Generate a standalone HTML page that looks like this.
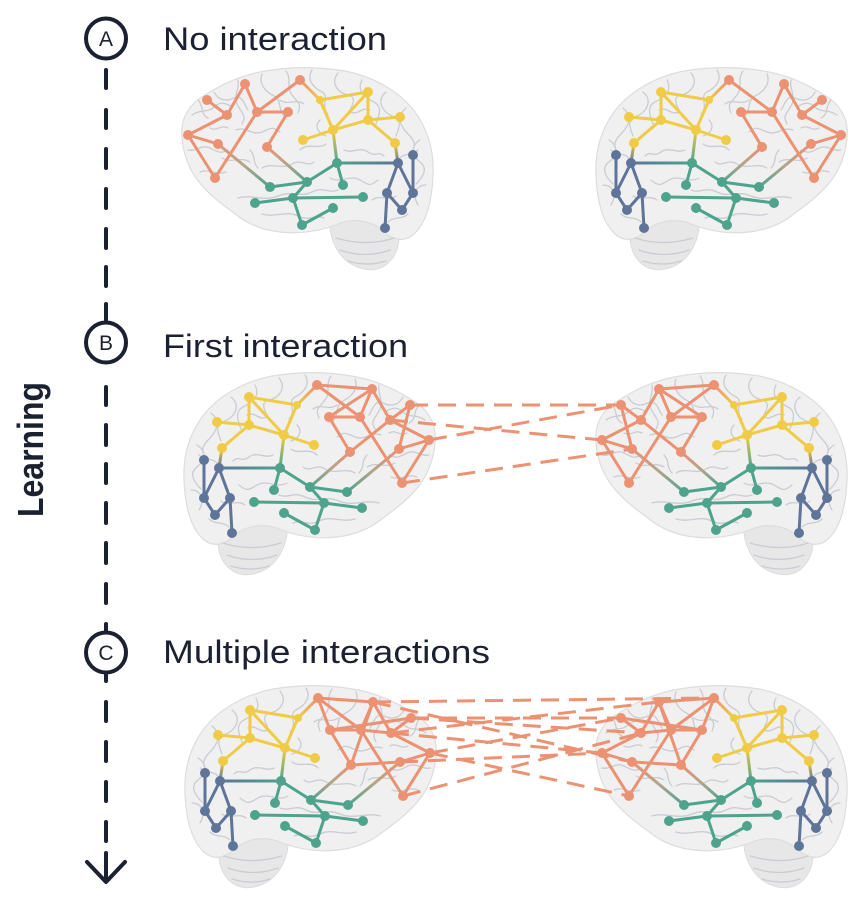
<!DOCTYPE html>
<html>
<head>
<meta charset="utf-8">
<style>
html,body{margin:0;padding:0;background:#ffffff;}
svg{display:block;}
</style>
</head>
<body>
<svg width="866" height="898" viewBox="0 0 866 898" xmlns="http://www.w3.org/2000/svg" xmlns:xlink="http://www.w3.org/1999/xlink">
<defs>
  <linearGradient id="gOT1" gradientUnits="userSpaceOnUse" x1="218" y1="144" x2="270" y2="187"><stop offset="0" stop-color="#EC9172"/><stop offset="0.5" stop-color="#b5a48a"/><stop offset="1" stop-color="#4DA38C"/></linearGradient>
  <linearGradient id="gOT2" gradientUnits="userSpaceOnUse" x1="267" y1="147" x2="307" y2="182"><stop offset="0" stop-color="#EC9172"/><stop offset="0.5" stop-color="#b5a48a"/><stop offset="1" stop-color="#4DA38C"/></linearGradient>
  <linearGradient id="gOY" gradientUnits="userSpaceOnUse" x1="300" y1="80" x2="320" y2="100"><stop offset="0" stop-color="#EC9172"/><stop offset="1" stop-color="#F0CB45"/></linearGradient>
  <linearGradient id="gYT" gradientUnits="userSpaceOnUse" x1="333" y1="130" x2="337" y2="163"><stop offset="0" stop-color="#F0CB45"/><stop offset="1" stop-color="#4DA38C"/></linearGradient>
  <linearGradient id="gYB" gradientUnits="userSpaceOnUse" x1="395" y1="143" x2="398" y2="163"><stop offset="0" stop-color="#F0CB45"/><stop offset="1" stop-color="#5F7499"/></linearGradient>
  <linearGradient id="gTB" gradientUnits="userSpaceOnUse" x1="337" y1="163" x2="398" y2="163"><stop offset="0" stop-color="#4DA38C"/><stop offset="1" stop-color="#5F7499"/></linearGradient>

  <g id="brain">
    <path d="M330,212 C327,240 340,264 364,269 C384,273 398,258 399,238 C399,226 392,216 380,212 Z" fill="#e7e7e7" stroke="#dcdcdc" stroke-width="1"/>
    <path d="M182,137 C180,118 190,103 205,95 C222,84 240,76 260,72 C285,67 315,66 345,71 C375,77 400,92 415,112 C428,130 434,152 433,175 C432,200 427,222 414,234 C404,243 392,240 382,230 C370,220 352,218 338,224 C318,232 298,234 280,232 C262,230 246,223 234,213 C220,203 206,192 196,178 C187,165 183,152 182,137 Z" fill="#f0f0f0" stroke="#dddddd" stroke-width="1.2"/>
    <g fill="none" stroke="#c9cdd2" stroke-width="1.3" stroke-linecap="round">
      <path d="M192,115 c8,-6 16,-2 22,-8 s12,-4 18,0"/>
      <path d="M188,150 c8,2 14,-6 22,-2 s10,6 18,2"/>
      <path d="M200,172 c10,-4 16,4 26,0"/>
      <path d="M214,92 c4,8 12,10 20,6 s10,6 14,12"/>
      <path d="M238,80 c2,10 -6,16 0,26 s8,10 4,18"/>
      <path d="M262,74 c-4,10 4,18 12,22 s4,14 10,20"/>
      <path d="M286,71 c6,8 0,16 6,24 s10,8 6,18"/>
      <path d="M312,70 c-6,10 2,18 10,22 s-2,14 6,22"/>
      <path d="M338,73 c-8,10 0,20 10,22 s4,12 -2,22"/>
      <path d="M362,80 c-6,12 4,18 12,22 s6,12 2,22"/>
      <path d="M386,92 c-10,8 -4,20 6,24 s8,10 4,20"/>
      <path d="M406,108 c-10,8 -6,18 2,26 s8,12 2,22"/>
      <path d="M420,140 c-10,6 -8,16 0,22 s4,14 -4,22"/>
      <path d="M426,185 c-10,0 -14,10 -8,20"/>
      <path d="M236,130 c10,-4 16,6 26,2 s10,-6 18,0"/>
      <path d="M222,158 c10,6 18,-2 28,4"/>
      <path d="M262,168 c10,-6 20,2 30,-4 s14,4 22,-2"/>
      <path d="M300,150 c8,-8 18,0 26,-6"/>
      <path d="M344,150 c8,4 16,-4 24,2 s10,-2 16,4"/>
      <path d="M330,178 c10,6 20,-4 30,2 s10,6 18,0"/>
      <path d="M238,198 c14,-4 26,4 40,-2 s22,2 34,-4 s16,2 26,-2"/>
      <path d="M262,214 c14,4 24,-4 36,2 s16,-2 26,2"/>
      <path d="M372,200 c8,-6 16,2 24,-4"/>
      <path d="M388,222 c6,-6 14,-2 20,-8"/>
      <path d="M398,160 c6,-8 14,-4 20,-10"/>
      <path d="M350,112 c8,4 12,-6 20,-2"/>
      <path d="M280,100 c8,6 16,-2 24,4"/>
      <path d="M198,100 c6,6 2,14 10,18"/>
      <path d="M250,150 c6,6 2,12 8,18"/>
      <path d="M320,120 c-6,6 -2,14 6,16"/>
      <path d="M210,128 c8,4 10,-4 18,0"/>
      <path d="M336,238 c20,6 40,6 58,0"/>
      <path d="M340,250 c16,6 34,6 50,0"/>
      <path d="M348,261 c12,4 26,4 38,0"/>
    </g>
  </g>

  <g id="net" fill="none" stroke-width="3" stroke-linecap="round" stroke-linejoin="round">
    <path stroke="url(#gOT1)" d="M218,144L270,187"/>
    <path stroke="url(#gOT2)" d="M267,147L307,182"/>
    <path stroke="url(#gOY)" d="M300,80L320,100"/>
    <path stroke="url(#gYT)" d="M333,130L337,163"/>
    <path stroke="url(#gYB)" d="M395,143L398,163"/>
    <path stroke="url(#gTB)" d="M337,163L398,163"/>
    <path stroke="#EC9172" d="M207,100L227,115L245,84L257,112L300,80 M188,135L227,115 M188,135L218,144 M188,135L215,178L257,112L288,112L267,147"/>
    <path stroke="#F0CB45" d="M320,100L368,92 M320,100L333,130L368,92L368,120 M303,140L333,130L368,120L400,117 M368,120L395,143"/>
    <path stroke="#4DA38C" d="M337,163L343,185 M337,163L307,182L270,187 M307,182L293,198 M255,203L293,198L363,197 M293,198L302,225L333,208"/>
    <path stroke="#5F7499" d="M413,155L413,193L402,210L387,193L398,163L413,193 M387,193L385,228"/>
    <g stroke="none">
      <g fill="#EC9172">
        <circle cx="207" cy="100" r="5"/><circle cx="245" cy="84" r="5"/><circle cx="227" cy="115" r="5"/><circle cx="188" cy="135" r="5"/><circle cx="218" cy="144" r="5"/><circle cx="215" cy="178" r="5"/><circle cx="257" cy="112" r="5"/><circle cx="300" cy="80" r="5"/><circle cx="288" cy="112" r="5"/><circle cx="267" cy="147" r="5"/>
      </g>
      <g fill="#F0CB45">
        <circle cx="320" cy="100" r="4"/><circle cx="368" cy="92" r="5"/><circle cx="333" cy="130" r="5"/><circle cx="368" cy="120" r="5"/><circle cx="400" cy="117" r="5"/><circle cx="395" cy="143" r="5"/><circle cx="303" cy="140" r="5"/>
      </g>
      <g fill="#4DA38C">
        <circle cx="337" cy="163" r="5"/><circle cx="343" cy="185" r="5"/><circle cx="307" cy="182" r="5"/><circle cx="270" cy="187" r="5"/><circle cx="293" cy="198" r="5"/><circle cx="255" cy="203" r="5"/><circle cx="363" cy="197" r="5"/><circle cx="333" cy="208" r="5"/><circle cx="302" cy="225" r="5"/>
      </g>
      <g fill="#5F7499">
        <circle cx="413" cy="155" r="5"/><circle cx="398" cy="163" r="5"/><circle cx="413" cy="193" r="5"/><circle cx="387" cy="193" r="5"/><circle cx="402" cy="210" r="5"/><circle cx="385" cy="228" r="5"/>
      </g>
    </g>
  </g>

  <g id="extB" fill="none" stroke="#EC9172" stroke-width="3" stroke-linecap="round">
    <path d="M245,84L300,80 M245,84L288,112 M227,115L267,147 M207,100L218,144"/>
  </g>
  <g id="extC" fill="none" stroke="#EC9172" stroke-width="3" stroke-linecap="round">
    <path d="M245,84L300,80 M300,80L288,112 M245,84L267,147 M218,144L267,147 M207,100L288,112 M227,115L257,112"/>
  </g>
</defs>

<rect width="866" height="898" fill="#ffffff"/>

<!-- Row A -->
<use xlink:href="#brain"/>
<use xlink:href="#net"/>
<g transform="translate(1029,0) scale(-1,1)">
  <use xlink:href="#brain"/>
  <use xlink:href="#net"/>
</g>

<!-- Row B -->
<g transform="translate(617,305) scale(-1,1)">
  <use xlink:href="#brain"/>
  <use xlink:href="#net"/>
  <use xlink:href="#extB"/>
</g>
<g transform="translate(414,305)">
  <use xlink:href="#brain"/>
  <use xlink:href="#net"/>
  <use xlink:href="#extB"/>
</g>

<!-- Row C -->
<g transform="translate(618,618) scale(-1,1)">
  <use xlink:href="#brain"/>
  <use xlink:href="#net"/>
  <use xlink:href="#extC"/>
</g>
<g transform="translate(414,618)">
  <use xlink:href="#brain"/>
  <use xlink:href="#net"/>
  <use xlink:href="#extC"/>
</g>

<!-- Dashed inter-brain connections -->
<g fill="none" stroke="#EC9172" stroke-width="3" stroke-dasharray="18 10">
  <path d="M410,405L621,405"/>
  <path d="M390,420L602,440"/>
  <path d="M429,440L621,405"/>
  <path d="M402,483L632,449"/>

  <path d="M373,702L714,698"/>
  <path d="M373,702L632,762"/>
  <path d="M411,718L621,718"/>
  <path d="M391,733L659,702"/>
  <path d="M430,753L621,718"/>
  <path d="M411,718L641,733"/>
  <path d="M400,762L602,753"/>
  <path d="M430,753L629,796"/>
  <path d="M403,796L641,733"/>
  <path d="M391,733L602,753"/>
</g>

<!-- Timeline -->
<g stroke="#1b2131" stroke-width="4" stroke-linecap="round" fill="none">
  <path d="M106,70V88 M106,110V128 M106,149V168 M106,189V208 M106,229V248 M106,267V286 M106,304V322"/>
  <path d="M106,387V405 M106,425V445 M106,464V483 M106,503V523 M106,543V563 M106,584V603 M106,624V632"/>
  <path d="M106,673V681 M106,702V721 M106,742V761 M106,782V801 M106,822V841"/>
  <path d="M106,853V881 M87,862L106,882L125,862" stroke-linejoin="round"/>
  <circle cx="106" cy="38.5" r="20"/>
  <circle cx="106" cy="342.5" r="20"/>
  <circle cx="106" cy="652.5" r="20"/>
</g>
<g font-family="Liberation Sans, sans-serif" fill="#1b2131" font-size="21" text-anchor="middle">
  <text x="106" y="46">A</text>
  <text x="106" y="350">B</text>
  <text x="106" y="660">C</text>
</g>

<!-- Titles -->
<g font-family="Liberation Sans, sans-serif" fill="#1b2131" font-size="32">
  <text x="163" y="50" textLength="224" lengthAdjust="spacingAndGlyphs">No interaction</text>
  <text x="163" y="357" textLength="245" lengthAdjust="spacingAndGlyphs">First interaction</text>
  <text x="163" y="663" textLength="327" lengthAdjust="spacingAndGlyphs">Multiple interactions</text>
</g>

<text transform="translate(43,517) rotate(-90)" font-family="Liberation Sans, sans-serif" font-weight="bold" font-size="36" fill="#1b2131" textLength="135" lengthAdjust="spacingAndGlyphs">Learning</text>
</svg>
</body>
</html>
